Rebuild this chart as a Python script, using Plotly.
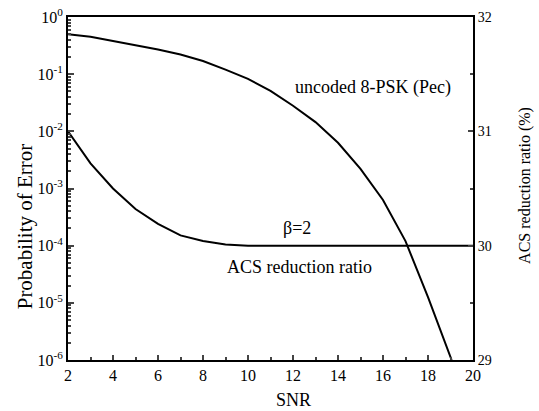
import plotly.graph_objects as go

# Uncoded 8-PSK symbol error probability (left, log axis)
snr_pec = [2, 3, 4, 5, 6, 7, 8, 9, 10, 11, 12, 13, 14, 15, 16, 17, 18, 19.05]
pec = [0.50, 0.45, 0.38, 0.32, 0.27, 0.22, 0.17, 0.12, 0.083, 0.051, 0.028,
       0.0145, 6.3e-3, 2.2e-3, 6.3e-4, 1.2e-4, 1.26e-5, 1e-6]

# ACS reduction ratio (right axis, %)
snr_acs = [2, 3, 4, 5, 6, 7, 8, 9, 10, 12, 14, 16, 18, 20]
acs = [31.0, 30.72, 30.5, 30.32, 30.19, 30.09, 30.04, 30.01, 30.0, 30.0, 30.0, 30.0, 30.0, 30.0]

x_ticks = [2, 4, 6, 8, 10, 12, 14, 16, 18, 20]
left_exps = [0, -1, -2, -3, -4, -5, -6]
right_ticks = [29, 30, 31, 32]

FONT = "Liberation Serif"

fig = go.Figure()
fig.add_trace(go.Scatter(x=snr_pec, y=pec, mode="lines",
                         line=dict(color="black", width=2), showlegend=False))
fig.add_trace(go.Scatter(x=snr_acs, y=acs, mode="lines", yaxis="y2",
                         line=dict(color="black", width=2), showlegend=False))

minor_log = [m * 10 ** e for e in range(-6, 0) for m in range(2, 10)]

fig.update_layout(
    width=539, height=411,
    margin=dict(l=68, r=66, t=17, b=51, autoexpand=False),
    paper_bgcolor="white", plot_bgcolor="white",
    font=dict(family=FONT, size=15, color="black"),
    xaxis=dict(range=[2, 20], tickvals=x_ticks, ticks="inside", ticklen=5,
               tickwidth=1.5, showline=True, linewidth=2, linecolor="black",
               mirror=True, showgrid=False, zeroline=False,
               tickfont=dict(family=FONT, size=16), ticklabeloverflow="allow",
               minor=dict(dtick=1, ticks="inside", ticklen=3, showgrid=False)),
    yaxis=dict(type="log", range=[-6, 0],
               tickvals=[10 ** e for e in left_exps],
               ticktext=["10<sup>%d</sup>" % e for e in left_exps],
               ticks="inside", ticklen=6, tickwidth=1.5,
               showline=True, linewidth=2, linecolor="black",
               showgrid=False, zeroline=False, ticklabeloverflow="allow",
               tickfont=dict(family=FONT, size=16),
               minor=dict(tickvals=minor_log, ticks="inside", ticklen=3,
                          showgrid=False)),
    yaxis2=dict(range=[29, 32], overlaying="y", side="right",
                tickvals=right_ticks, ticks="inside", ticklen=5, tickwidth=1.5,
                showline=True, linewidth=2, linecolor="black",
                showgrid=False, zeroline=False, ticklabeloverflow="allow",
                tickfont=dict(family=FONT, size=14),
                minor=dict(dtick=0.5, ticks="inside", ticklen=3, showgrid=False)),
    annotations=[
        dict(text="uncoded 8-PSK (Pec)", x=15.56, y=-1.24, xref="x", yref="y",
             xanchor="center", yanchor="middle",
             showarrow=False, font=dict(family=FONT, size=18)),
        dict(text="β=2", x=12.16, y=-3.69, xref="x", yref="y",
             xanchor="center", yanchor="middle",
             showarrow=False, font=dict(family=FONT, size=18)),
        dict(text="ACS reduction ratio", x=12.31, y=-4.37, xref="x", yref="y",
             xanchor="center", yanchor="middle",
             showarrow=False, font=dict(family=FONT, size=18)),
        dict(text="Probability of Error", x=-0.106, y=0.39, xref="paper",
             yref="paper", textangle=-90, showarrow=False,
             xanchor="center", yanchor="middle",
             font=dict(family=FONT, size=21)),
        dict(text="ACS reduction ratio (%)", x=1.128, y=0.51, xref="paper",
             yref="paper", textangle=-90, showarrow=False,
             xanchor="center", yanchor="middle",
             font=dict(family=FONT, size=16)),
        dict(text="SNR", x=0.556, y=-0.117, xref="paper", yref="paper",
             xanchor="center", yanchor="middle",
             showarrow=False, font=dict(family=FONT, size=18)),
    ],
)

fig.write_html("out.html", config={"displayModeBar": False},
               post_script="document.body.style.margin='0';")
